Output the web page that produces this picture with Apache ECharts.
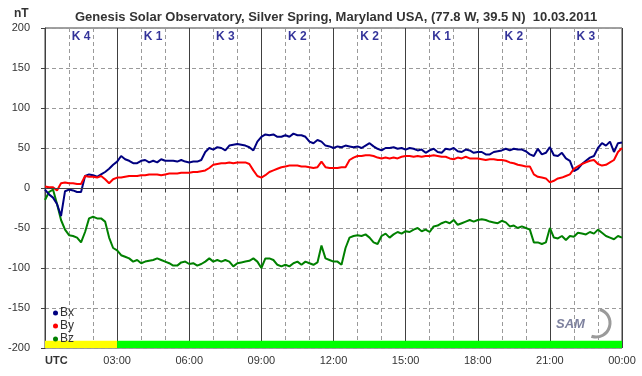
<!DOCTYPE html>
<html>
<head>
<meta charset="utf-8">
<script src="https://cdn.jsdelivr.net/npm/echarts@6/dist/echarts.min.js"></script>
<style>
  html, body { margin: 0; padding: 0; background: #fff; }
  #chart { width: 642px; height: 376px; }
</style>
</head>
<body>
<div id="chart"></div>
<script>
  // samples every 10 minutes, 00:00 .. 24:00 UTC
  const stepMinutes = 10;

  const bx = [
    -2, -8, -12, -20, -35, -4, -2, -3, -5, -5, 15, 17, 16, 14, 17, 20, 24, 29, 33, 40,
    36, 34, 31, 31, 34, 35, 32, 34, 32, 36, 34, 34, 34, 33, 35, 33, 32,
    33, 33, 35, 45, 50, 48, 51, 50, 47, 53, 54, 55, 54, 53, 51, 47, 58, 64, 67, 66,
    67, 64, 64, 66, 64, 68, 66, 66, 64, 58, 56, 60, 58, 53, 52, 50,
    52, 51, 53, 52, 51, 52, 50, 53, 56, 52, 49, 47, 50, 50, 51, 49, 50, 48, 50, 49,
    47, 48, 44, 47, 49, 45, 44, 49, 48, 50, 46, 45, 48, 47, 44, 45,
    45, 42, 42, 45, 46, 47, 49, 47, 49, 48, 48, 46, 42, 40, 49, 42, 44, 51, 41, 40,
    44, 37, 34, 21, 24, 30, 34, 38, 40, 50, 56, 53, 58, 45, 56, 57
  ];

  const by = [
    2, 1, 1, -3, 6, 7, 6, 6, 5, 5, 15, 14, 14, 13, 15, 11, 6, 11, 13, 13,
    14, 15, 15, 15, 16, 16, 17, 17, 17, 16, 17, 18, 18, 18, 19, 19, 19,
    20, 20, 21, 22, 25, 29, 30, 31, 31, 32, 31, 32, 32, 32, 30, 22, 15, 13, 16, 20,
    22, 24, 26, 27, 28, 28, 28, 27, 27, 26, 25, 26, 33, 26, 25, 25,
    25, 26, 26, 35, 38, 40, 40, 41, 41, 40, 38, 37, 38, 37, 38, 37, 39, 40, 40, 39,
    40, 39, 40, 40, 41, 40, 39, 39, 37, 36, 38, 37, 39, 37, 37, 37,
    36, 35, 36, 36, 35, 35, 34, 32, 31, 29, 28, 27, 27, 17, 14, 13, 12, 7, 9, 12,
    13, 15, 17, 24, 27, 30, 32, 34, 35, 30, 28, 29, 32, 35, 45, 50
  ];

  const bz = [
    -15, -5, -2, -20, -40, -52, -59, -60, -62, -68, -55, -38, -36, -38, -38, -42, -62, -75, -78, -84,
    -86, -88, -92, -90, -94, -92, -91, -90, -88, -90, -92, -94, -97, -97, -93, -92, -95,
    -94, -97, -95, -92, -88, -92, -90, -92, -90, -92, -98, -94, -93, -92, -91, -88, -92, -100, -88, -88,
    -90, -96, -98, -96, -98, -94, -92, -96, -92, -94, -96, -93, -72, -88, -90, -92,
    -92, -96, -75, -62, -60, -59, -60, -58, -62, -68, -70, -60, -57, -62, -58, -55, -57, -54, -55, -52,
    -50, -54, -52, -55, -48, -47, -44, -42, -44, -40, -46, -44, -42, -40, -42, -40,
    -39, -40, -42, -43, -44, -41, -43, -48, -47, -50, -48, -50, -52, -68, -68, -70, -68, -50, -62, -63,
    -60, -65, -60, -61, -56, -57, -58, -55, -57, -52, -56, -60, -62, -64, -60, -62
  ];

  // 3-hour K index blocks
  const kIndex = ['K 4', 'K 1', 'K 3', 'K 2', 'K 2', 'K 1', 'K 2', 'K 3'];
  const xTickLabels = ['UTC', '03:00', '06:00', '09:00', '12:00', '15:00', '18:00', '21:00', '00:00'];
  // status bar spans in minutes
  const statusSpans = [[0, 180], [180, 1440]];

  const pair = arr => arr.map((v, i) => [i * stepMinutes, v]);

  const font = 'Liberation Sans, Arial, sans-serif';
  const chart = echarts.init(document.getElementById('chart'));

  chart.setOption({
    animation: false,
    backgroundColor: '#fff',
    textStyle: { fontFamily: font },
    title: {
      text: 'Genesis Solar Observatory, Silver Spring, Maryland USA, (77.8 W, 39.5 N)  10.03.2011',
      left: 70,
      top: 6,
      textStyle: { fontSize: 13, fontWeight: 'bold', color: '#333', fontFamily: font }
    },
    graphic: [
      {
        type: 'text', left: 14, top: 8,
        style: { text: 'nT', fill: '#333', font: 'bold 12px ' + font }
      },
      {
        type: 'arc', silent: true,
        shape: { cx: 596, cy: 323, r: 14, startAngle: -1.3, endAngle: 1.9 },
        style: { stroke: '#9a9a9a', lineWidth: 3, fill: null }
      },
      {
        type: 'text', left: 556, top: 318,
        style: { text: 'SAM', fill: '#7d819e', font: 'italic bold 13px ' + font }
      }
    ],
    legend: {
      orient: 'vertical',
      left: 48,
      top: 302,
      itemWidth: 5,
      itemHeight: 5,
      itemGap: 1,
      icon: 'circle',
      data: ['Bx', 'By', 'Bz'],
      textStyle: { fontSize: 12, lineHeight: 12, color: '#333', padding: [0, 0, 0, -3] }
    },
    grid: {
      left: 45, right: 20, top: 28, bottom: 28,
      show: true, borderColor: '#404040', borderWidth: 1, backgroundColor: '#fff'
    },
    xAxis: {
      type: 'value',
      min: 0, max: 1440, interval: 180,
      axisLine: { lineStyle: { color: '#404040' } },
      axisTick: { length: 4, lineStyle: { color: '#404040' } },
      minorTick: { show: true, splitNumber: 3, length: 4, lineStyle: { color: '#404040' } },
      splitLine: { show: true, lineStyle: { color: '#404040', width: 1 } },
      minorSplitLine: { show: true, lineStyle: { color: '#9a9a9a', type: [4, 3] } },
      axisLabel: {
        margin: 7, fontSize: 11, color: '#333',
        formatter: v => {
          const t = xTickLabels[Math.round(v / 180)];
          return v === 0 ? '{b|' + t + '}' : t;
        },
        rich: { b: { fontWeight: 'bold', fontSize: 11, color: '#333' } },
        alignMinLabel: 'left'
      }
    },
    yAxis: {
      type: 'value',
      min: -200, max: 200, interval: 50,
      axisLine: { show: true, lineStyle: { color: '#404040' } },
      axisTick: { show: true, length: 4, lineStyle: { color: '#404040' } },
      splitLine: { lineStyle: { color: '#9a9a9a', type: [4, 3] } },
      axisLabel: { margin: 15, fontSize: 11, color: '#333' }
    },
    series: [
      {
        name: 'frame',
        type: 'line',
        data: [],
        z: 1,
        markLine: {
          silent: true, symbol: 'none', label: { show: false },
          lineStyle: { color: '#404040', type: 'solid', width: 1 },
          data: [{ yAxis: 0 }]
        },
        markArea: {
          silent: true,
          data: statusSpans.map((s, i) => [
            { xAxis: s[0], yAxis: -200, itemStyle: { color: i === 0 ? '#ffff00' : '#00ff00' } },
            { xAxis: s[1], yAxis: -191 }
          ])
        }
      },
      {
        name: 'Bz', type: 'line', data: pair(bz), z: 2,
        showSymbol: false, color: '#008000', lineStyle: { width: 2 }
      },
      {
        name: 'Bx', type: 'line', data: pair(bx), z: 3,
        showSymbol: false, color: '#000080', lineStyle: { width: 2 }
      },
      {
        name: 'By', type: 'line', data: pair(by), z: 4,
        showSymbol: false, color: '#ff0000', lineStyle: { width: 2 }
      },
      {
        name: 'K',
        type: 'scatter',
        symbolSize: 0,
        z: 5,
        data: kIndex.map((k, i) => ({ name: k, value: [90 + i * 180, 189] })),
        label: {
          show: true, position: 'inside', formatter: p => p.name,
          color: '#000080', fontWeight: 'bold', fontSize: 12
        }
      }
    ]
  });
</script>
</body>
</html>
